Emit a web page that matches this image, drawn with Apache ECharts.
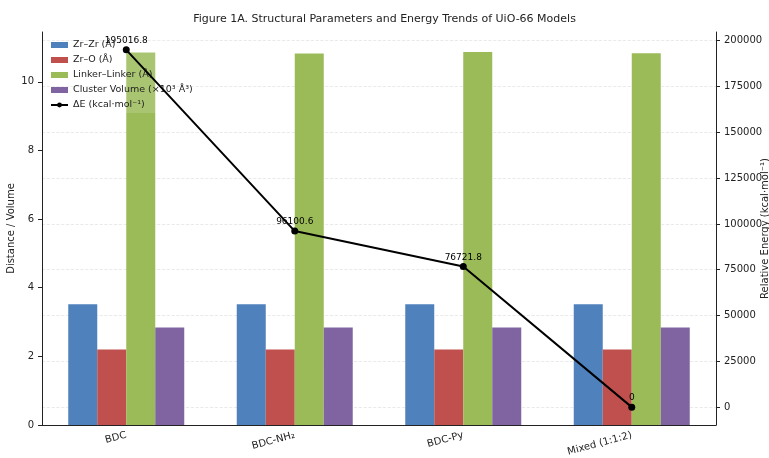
<!DOCTYPE html>
<html><head><meta charset="utf-8">
<script src="https://cdn.jsdelivr.net/npm/echarts@6/dist/echarts.min.js"></script>
<style>html,body{margin:0;padding:0;background:#fff}#c{width:769px;height:458px}</style>
</head><body><div id="c"></div>
<script>
const categories = ['BDC', 'BDC-NH\u2082', 'BDC-Py', 'Mixed (1:1:2)'];
const zrZr = [3.52, 3.52, 3.52, 3.52];
const zrO = [2.20, 2.20, 2.20, 2.20];
const linker = [10.85, 10.82, 10.87, 10.83];
const clusterVol = [2.84, 2.84, 2.84, 2.84];
const deltaE = [195016.8, 96100.6, 76721.8, 0];
const leftTicks = [0, 2, 4, 6, 8, 10];
const rightTicks = [0, 25000, 50000, 75000, 100000, 125000, 150000, 175000, 200000];

const font = 'DejaVu Sans';
const chart = echarts.init(document.getElementById('c'));
const barBase = {type: 'bar', barWidth: 29, barGap: '0%', yAxisIndex: 0};
chart.setOption({
  animation: false,
  textStyle: {fontFamily: font},
  title: {text: 'Figure 1A. Structural Parameters and Energy Trends of UiO-66 Models', left: 'center', top: 9,
    textStyle: {fontFamily: font, fontSize: 11, fontWeight: 'normal', color: '#222'}},
  grid: {left: 42, right: 53, top: 32, bottom: 33, outerBoundsMode: 'none', containLabel: false},
  legend: {orient: 'vertical', left: 46, top: 37, itemWidth: 17, itemHeight: 6, itemGap: 5,
    borderWidth: 0, padding: [3, 4, 3, 4], backgroundColor: 'rgba(255,255,255,0.15)',
    textStyle: {fontFamily: font, fontSize: 9.5, color: '#222'},
    data: [{name: 'Zr\u2013Zr (\u00c5)', icon: 'rect'}, {name: 'Zr\u2013O (\u00c5)', icon: 'rect'},
      {name: 'Linker\u2013Linker (\u00c5)', icon: 'rect'}, {name: 'Cluster Volume (\u00d710\u00b3 \u00c5\u00b3)', icon: 'rect'},
      {name: '\u0394E (kcal\u00b7mol\u207b\u00b9)'}]},
  xAxis: {type: 'category', data: categories,
    axisLine: {lineStyle: {color: '#222', width: 1}}, axisTick: {alignWithLabel: true, length: 4, lineStyle: {color: '#222'}},
    axisLabel: {rotate: 15, fontSize: 10, color: '#222', margin: 10}},
  yAxis: [
    {type: 'value', min: 0, max: 11.45, name: 'Distance / Volume', nameLocation: 'middle', nameGap: 26, nameRotate: 90,
      nameMoveOverlap: false,
      nameTextStyle: {fontSize: 10, color: '#222'},
      axisLine: {show: true, lineStyle: {color: '#222'}},
      axisTick: {show: true, length: 4, lineStyle: {color: '#222'}, customValues: leftTicks},
      axisLabel: {fontSize: 10, color: '#222', customValues: leftTicks}, splitLine: {show: false}},
    {type: 'value', min: -9750, max: 204750, position: 'right', name: 'Relative Energy (kcal\u00b7mol\u207b\u00b9)',
      nameLocation: 'middle', nameGap: 44, nameRotate: 90, nameMoveOverlap: false,
      nameTextStyle: {fontSize: 10, color: '#222'},
      axisLine: {show: true, lineStyle: {color: '#222'}},
      axisTick: {show: true, length: 4, lineStyle: {color: '#222'}, customValues: rightTicks},
      axisLabel: {fontSize: 10, color: '#222', customValues: rightTicks, formatter: v => String(v)},
      splitLine: {show: true, lineStyle: {color: '#e4e4e4', type: 'dashed', width: 0.8}}}
  ],
  series: [
    Object.assign({name: 'Zr\u2013Zr (\u00c5)', data: zrZr, itemStyle: {color: '#4F81BD'}}, barBase),
    Object.assign({name: 'Zr\u2013O (\u00c5)', data: zrO, itemStyle: {color: '#C0504D'}}, barBase),
    Object.assign({name: 'Linker\u2013Linker (\u00c5)', data: linker, itemStyle: {color: '#9BBB59'}}, barBase),
    Object.assign({name: 'Cluster Volume (\u00d710\u00b3 \u00c5\u00b3)', data: clusterVol, itemStyle: {color: '#8064A2'}}, barBase),
    {name: '\u0394E (kcal\u00b7mol\u207b\u00b9)', type: 'line', yAxisIndex: 1, data: deltaE, z: 5,
      symbol: 'circle', symbolSize: 7, lineStyle: {color: '#000', width: 2}, itemStyle: {color: '#000'},
      label: {show: true, position: 'top', distance: 1, fontSize: 9, color: '#000', formatter: p => String(p.value)}}
  ]
});
</script></body></html>
